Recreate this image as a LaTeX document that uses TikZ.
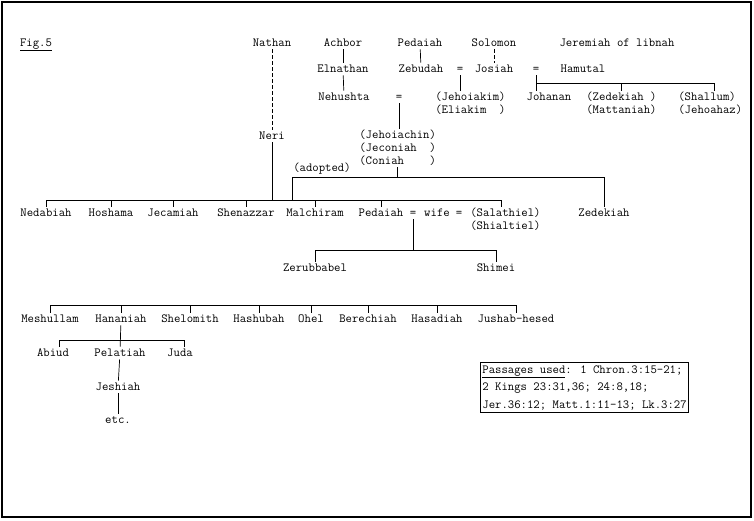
\documentclass[tikz,border=0pt]{standalone}
\newcommand\tyfont{\fontsize{12.4}{13.5}\selectfont\ttfamily}
\begin{document}
\begin{tikzpicture}[x=1pt,y=-1pt,line width=.7pt,
  person/.style={font=\tyfont,inner sep=1pt,text height=8pt,text depth=2pt},
  broken/.style={dash pattern=on 3.5pt off 2.5pt}]
\useasboundingbox (0,0) rectangle (754,520);
\draw [line width=1.1pt] (2,2) rectangle (751,517);

\node [person] (fig) at (36,43) {\underline{Fig.5}};
\node [person] (nathan) at (272,43) {Nathan};
\node [person] (achbor) at (343,43) {Achbor};
\node [person] (pedaiah) at (420,43) {Pedaiah};
\node [person] (solomon) at (494,43) {Solomon};
\node [person] (jeremiah) at (617,43) {Jeremiah of libnah};

\node [person] (elnathan) at (343,69) {Elnathan};
\node [person] (zebudah) at (421,69) {Zebudah};
\node [person] (eqZ) at (460,69) {=};
\node [person] (josiah) at (494,69) {Josiah};
\node [person] (eqJ) at (536,69) {=};
\node [person] (hamutal) at (583,69) {Hamutal};

\node [person] (nehushta) at (344,97) {Nehushta};
\node [person] (eqN) at (399,97) {=};
\node [person,anchor=west] (jehoiakim) at (434,97) {(Jehoiakim)};
\node [person,anchor=west] (eliakim) at (434,110) {(Eliakim\ \ )};
\node [person] (johanan) at (549,97) {Johanan};
\node [person,anchor=west] (zedekiah) at (585,97) {(Zedekiah\ )};
\node [person,anchor=west] (mattaniah) at (585,110) {(Mattaniah)};
\node [person,anchor=west] (shallum) at (677,97) {(Shallum)};
\node [person,anchor=west] (jehoahaz) at (677,110) {(Jehoahaz)};

\node [person] (neri) at (272,136) {Neri};
\node [person,anchor=west] (jehoiachin) at (358,135) {(Jehoiachin)};
\node [person,anchor=west] (jeconiah) at (358,148) {(Jeconiah\ \ )};
\node [person,anchor=west] (coniah) at (358,161) {(Coniah\ \ \ \ )};
\node [person] (adopted) at (322,168) {(adopted)};

\node [person] (nedabiah) at (46,213) {Nedabiah};
\node [person] (hoshama) at (111,213) {Hoshama};
\node [person] (jecamiah) at (173,213) {Jecamiah};
\node [person] (shenazzar) at (246,213) {Shenazzar};
\node [person] (malchiram) at (315,213) {Malchiram};
\node [person] (pedaiahB) at (381,213) {Pedaiah};
\node [person] (eqP) at (413,213) {=};
\node [person] (wife) at (437,213) {wife};
\node [person] (eqW) at (459,213) {=};
\node [person,anchor=west] (salathiel) at (469,213) {(Salathiel)};
\node [person,anchor=west] (shialtiel) at (469,226) {(Shialtiel)};
\node [person] (zedekiahB) at (604,213) {Zedekiah};

\node [person] (zerubbabel) at (315,268) {Zerubbabel};
\node [person] (shimei) at (496,268) {Shimei};

\node [person] (meshullam) at (50,319) {Meshullam};
\node [person] (hananiah) at (121,319) {Hananiah};
\node [person] (shelomith) at (190,319) {Shelomith};
\node [person] (hashubah) at (259,319) {Hashubah};
\node [person] (ohel) at (311,319) {Ohel};
\node [person] (berechiah) at (368,319) {Berechiah};
\node [person] (hasadiah) at (437,319) {Hasadiah};
\node [person] (jushab) at (516,319) {Jushab-hesed};

\node [person] (abiud) at (53,353) {Abiud};
\node [person] (pelatiah) at (120,353) {Pelatiah};
\node [person] (juda) at (180,353) {Juda};
\node [person] (jeshiah) at (118,387) {Jeshiah};
\node [person] (etc) at (118,420) {etc.};

\node [draw,line width=.8pt,font=\fontsize{12.4}{17.5}\selectfont\ttfamily,align=left,
  anchor=north west,inner xsep=2pt,inner ysep=3pt] (passages) at (480,362)
  {\underline{Passages used}: 1 Chron.3:15-21;\\2 Kings 23:31,36; 24:8,18;\\Jer.36:12; Matt.1:11-13; Lk.3:27};

\coordinate (jbar) at (0,83);
\coordinate (cbar) at (0,177);
\coordinate (nbar) at (0,200);
\coordinate (pbar) at (0,250);
\coordinate (zbar) at (0,305);
\coordinate (hbar) at (0,340);
\coordinate (shallumtop) at ([xshift=7pt]shallum.north);
\coordinate (salathieltop) at ([xshift=-4pt]salathiel.north);
\coordinate (abiudtop) at ([xshift=6pt]abiud.north);
\coordinate (judatop) at ([xshift=4pt]juda.north);

\draw [broken] (nathan) -- (neri);
\draw [broken] (solomon) -- (josiah);
\draw (achbor) -- (elnathan);
\draw (elnathan) -- (nehushta);
\draw (pedaiah) -- (zebudah);
\draw (eqZ.south) -- (eqZ |- jehoiakim.north);
\draw (eqN.south) -- (eqN |- jehoiachin.north);
\draw (eqJ.south) -- (eqJ |- johanan.north);
\draw (eqJ |- jbar) -| (shallumtop);
\draw (zedekiah.north) -- (zedekiah |- jbar);

\draw (coniah.south) -- (coniah |- cbar);
\draw (zedekiahB.north) |- (adopted.west |- cbar) -- (adopted.west |- nbar);
\draw (neri) -- (neri |- nbar);
\draw (nedabiah.north) |- (salathieltop |- nbar) -- (salathieltop);
\draw (hoshama.north) -- (hoshama |- nbar);
\draw (jecamiah.north) -- (jecamiah |- nbar);
\draw (shenazzar.north) -- (shenazzar |- nbar);
\draw (malchiram.north) -- (malchiram |- nbar);
\draw (pedaiahB.north) -- (pedaiahB |- nbar);

\draw (eqP.south) -- (eqP |- pbar);
\draw (zerubbabel.north) |- (shimei |- pbar) -- (shimei.north);

\draw (meshullam.north) |- (jushab |- zbar) -- (jushab.north);
\draw (hananiah.north) -- (hananiah |- zbar);
\draw (shelomith.north) -- (shelomith |- zbar);
\draw (hashubah.north) -- (hashubah |- zbar);
\draw (ohel.north) -- (ohel |- zbar);
\draw (berechiah.north) -- (berechiah |- zbar);
\draw (hasadiah.north) -- (hasadiah |- zbar);

\draw (hananiah) -- (pelatiah);
\draw (abiudtop) |- (judatop |- hbar) -- (judatop);
\draw (pelatiah) -- (jeshiah);
\draw (jeshiah) -- (etc);
\end{tikzpicture}
\end{document}
